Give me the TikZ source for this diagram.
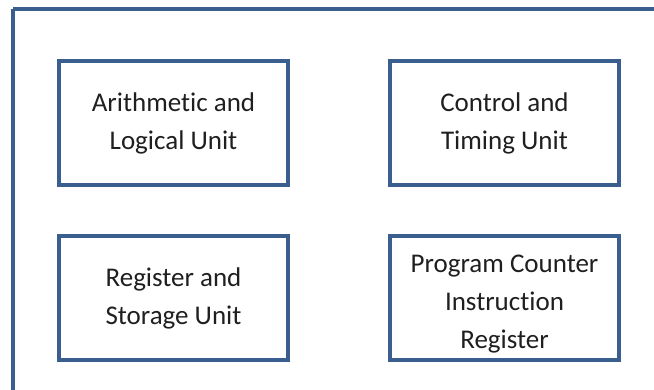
\documentclass[tikz,border=0pt]{standalone}
\usepackage{fontspec}
\setmainfont[Ligatures=CommonOff]{Carlito}
\definecolor{boxblue}{HTML}{3A5F8E}
\begin{document}
\begin{tikzpicture}[x=1pt,y=-1pt,
  unit/.style={draw=boxblue,line width=3.2pt,minimum width=229pt,minimum height=124pt,
    align=center,inner sep=0pt,font=\fontsize{27}{38}\selectfont,text=black!88}]
\useasboundingbox (0,0) rectangle (654,390);
\begin{scope}
\clip (0,0) rectangle (654,390);
\draw[boxblue,line width=3.2pt] (13,9) -- (680,9) (13,9) -- (13,420);
\end{scope}
\node[unit] (alu) at (173.5,123) {Arithmetic and\\Logical Unit};
\node[unit] (ctu) at (504.5,123) {Control and\\Timing Unit};
\node[unit] (rsu) at (173.5,298) {Register and\\Storage Unit};
\node[unit] (pci) at (504.5,298) {\rule{0pt}{29pt}Program Counter\\Instruction\\Register};
\end{tikzpicture}
\end{document}
